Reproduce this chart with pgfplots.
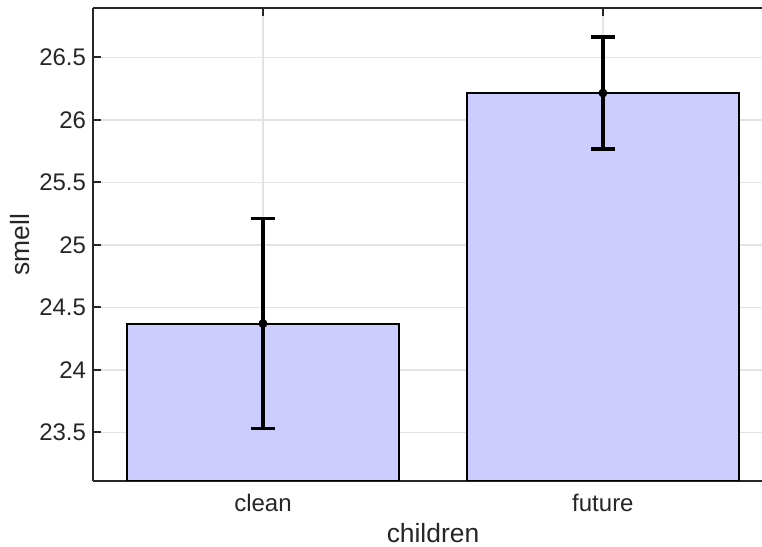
\documentclass[border=0pt]{standalone}
\usepackage{pgfplots}
\pgfplotsset{compat=1.18}
\usepackage{fontspec}
\setmainfont{Liberation Sans}
\definecolor{barfill}{HTML}{CCCCFF}
\definecolor{axcol}{HTML}{262626}
\definecolor{gridcol}{HTML}{E3E3E3}
\begin{document}
\begin{tikzpicture}
\begin{axis}[
  at={(0,0)}, anchor=south west,
  scale only axis, width=334.5pt, height=236.5pt,
  xmin=-0.5, xmax=1.468, ymin=23.111, ymax=26.895,
  axis x line*=box, axis y line*=left,
  axis line style={axcol, line width=1pt},
  tick align=inside,
  major tick length=4pt,
  every tick/.style={axcol, line width=1pt},
  xtick={0,1}, xticklabels={clean,future},
  ytick={23.5,24,24.5,25,25.5,26,26.5},
  yticklabels={23.5,24,24.5,25,25.5,26,26.5},
  grid=major,
  major grid style={gridcol, line width=0.8pt},
  xticklabel style={font=\fontsize{12}{14}\selectfont, text=axcol, anchor=base, yshift=-15.4pt, inner sep=0pt},
  yticklabel style={font=\fontsize{12}{14}\selectfont, text=axcol, anchor=east, inner sep=0pt, xshift=-3.3pt},
  xlabel={children}, ylabel={smell},
  xlabel style={font=\fontsize{13.2}{15}\selectfont, text=axcol, at={(axis description cs:0.5082,-0.1307)}, anchor=base, inner sep=0pt},
  ylabel style={font=\fontsize{13.2}{15}\selectfont, text=axcol, at={(axis description cs:-0.0942,0.5)}, anchor=base, inner sep=0pt},
]
\addplot[ybar, bar width=0.8, bar shift=0pt, fill=barfill, draw=black, line width=1pt] coordinates {(0,24.37) (1,26.215)};
\addplot[black, only marks, mark=*, mark size=2pt,
  error bars/.cd, y dir=both, y explicit,
  error bar style={line width=1.8pt, black},
  error mark options={rotate=90, mark size=6pt, line width=1.8pt, black}]
  coordinates {(0,24.37) +- (0,0.84) (1,26.215) +- (0,0.45)};
\end{axis}
\pgfresetboundingbox
\path[use as bounding box] (-46.5pt,-33pt) rectangle (334.5pt,240.5pt);
\end{tikzpicture}
\end{document}
